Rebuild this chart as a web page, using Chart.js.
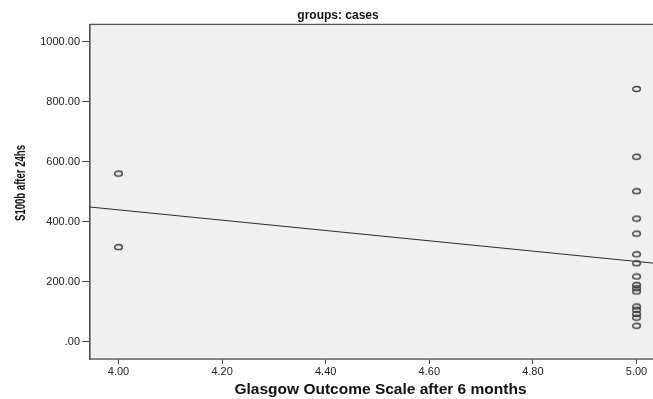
<!DOCTYPE html>
<html>
<head>
<meta charset="utf-8">
<script src="https://cdn.jsdelivr.net/npm/chart.js@4"></script>
<style>
  html, body { margin: 0; padding: 0; background: #fff; overflow: hidden; }
  /* the original figure is cut off at the right edge, so the canvas runs past the window */
  #clip { width: 653px; height: 399px; overflow: hidden; }
  #wrap { width: 676px; height: 399px; }
</style>
</head>
<body>
<div id="clip"><div id="wrap"><canvas id="scatter"></canvas></div></div>
<script>
// values
const gosScore = [4, 4, 5, 5, 5, 5, 5, 5, 5, 5, 5, 5, 5, 5, 5, 5, 5, 5];
const s100b = [561, 316, 843, 617, 502, 411, 361, 292, 262, 218, 190, 179, 168, 118, 107, 93, 81, 54];
const fitAt4 = 440;   // fit line value at GOS 4
const fitAt5 = 268;   // fit line value at GOS 5
const xTicks = [4.0, 4.2, 4.4, 4.6, 4.8, 5.0];
const yTicks = [0, 200, 400, 600, 800, 1000];
const xMin = 3.945, xMax = 5.0666;
const yMin = -57, yMax = 1058;
const yTitle = 'S100b after 24hs';

const points = gosScore.map((g, i) => ({ x: g, y: s100b[i] }));
const slope = fitAt5 - fitAt4;
const fitLine = [xMin, xMax].map(x => ({ x: x, y: fitAt4 + slope * (x - 4) }));

// small open ellipse used as marker
function ringMarker() {
  const c = document.createElement('canvas');
  c.width = 11; c.height = 8;
  const g = c.getContext('2d');
  g.strokeStyle = '#3a3a3a';
  g.lineWidth = 1.4;
  g.beginPath();
  g.ellipse(5.5, 4, 3.8, 2.5, 0, 0, Math.PI * 2);
  g.stroke();
  return c;
}

const plotBox = {
  id: 'plotBox',
  beforeDatasetsDraw(chart) {
    const { ctx, chartArea: a } = chart;
    ctx.save();
    ctx.fillStyle = '#f0f0f0';
    ctx.fillRect(a.left, a.top, a.right - a.left, a.bottom - a.top);
    ctx.strokeStyle = '#555';
    ctx.lineWidth = 1.3;
    ctx.strokeRect(a.left, a.top, a.right - a.left, a.bottom - a.top);
    ctx.restore();
  }
};

// y title in a narrow bold face, like the SPSS output
const narrowYTitle = {
  id: 'narrowYTitle',
  afterDraw(chart) {
    const { ctx } = chart;
    ctx.save();
    ctx.font = "bold 14px 'Liberation Sans', Arial, sans-serif";
    const w = ctx.measureText(yTitle).width;
    ctx.translate(21, 183);
    ctx.rotate(-Math.PI / 2);
    ctx.scale(76 / w, 1);
    ctx.fillStyle = '#111';
    ctx.textAlign = 'center';
    ctx.textBaseline = 'middle';
    ctx.fillText(yTitle, 0, 0);
    ctx.restore();
  }
};

const tickFont = { family: "'Liberation Sans', Arial, sans-serif", size: 11 };

new Chart(document.getElementById('scatter'), {
  type: 'scatter',
  data: {
    datasets: [
      {
        label: 'cases',
        data: points,
        pointStyle: ringMarker(),
        pointRadius: 4,
        pointHoverRadius: 4
      },
      {
        type: 'line',
        label: 'fit',
        data: fitLine,
        borderColor: '#2b2b2b',
        borderWidth: 1,
        pointRadius: 0,
        fill: false
      }
    ]
  },
  options: {
    responsive: true,
    maintainAspectRatio: false,
    animation: false,
    layout: { padding: 0 },
    plugins: {
      legend: { display: false },
      tooltip: { enabled: false },
      title: {
        display: true,
        text: 'groups: cases',
        color: '#111',
        font: { family: "'Liberation Sans', Arial, sans-serif", size: 12, weight: 'bold' },
        padding: { top: 8, bottom: 2 }
      }
    },
    scales: {
      x: {
        type: 'linear',
        min: xMin,
        max: xMax,
        afterBuildTicks: s => { s.ticks = xTicks.map(v => ({ value: v })); },
        afterFit: s => { s.height = 40; },
        ticks: {
          font: tickFont,
          color: '#222',
          padding: 1,
          maxRotation: 0,
          callback: v => v.toFixed(2)
        },
        grid: { drawOnChartArea: false, drawTicks: true, tickLength: 5, color: '#444', lineWidth: 1 },
        border: { display: true, color: '#555', width: 1.3 },
        title: {
          display: true,
          text: 'Glasgow Outcome Scale after 6 months',
          color: '#111',
          font: { family: "'Liberation Sans', Arial, sans-serif", size: 15.5, weight: 'bold' },
          padding: { top: 0, bottom: 0 }
        }
      },
      y: {
        type: 'linear',
        min: yMin,
        max: yMax,
        afterBuildTicks: s => { s.ticks = yTicks.map(v => ({ value: v })); },
        afterFit: s => { s.width = 90; },
        ticks: {
          font: tickFont,
          color: '#222',
          padding: 2,
          callback: v => v === 0 ? '.00' : v.toFixed(2)
        },
        grid: { drawOnChartArea: false, drawTicks: true, tickLength: 8, color: '#444', lineWidth: 1 },
        border: { display: true, color: '#555', width: 1.3 },
        title: { display: false }
      }
    }
  },
  plugins: [plotBox, narrowYTitle]
});
</script>
</body>
</html>
